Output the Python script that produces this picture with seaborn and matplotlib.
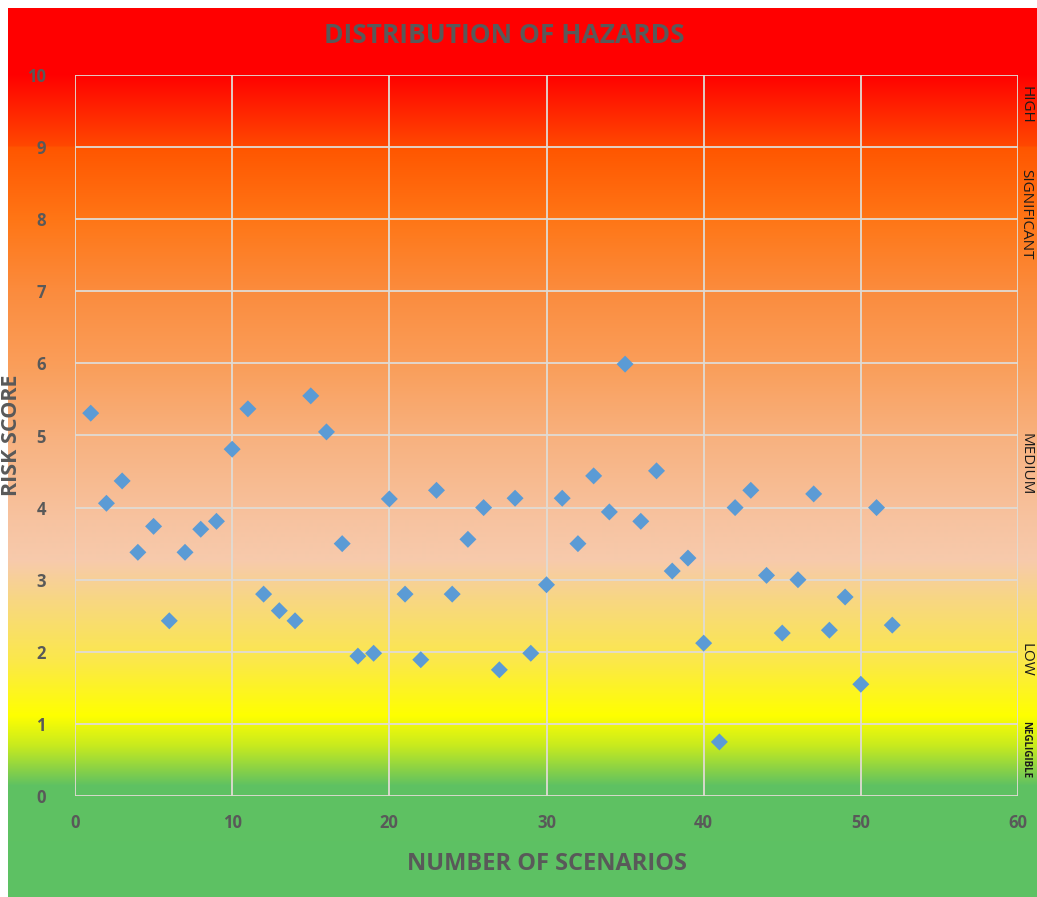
import numpy as np
import pandas as pd
import matplotlib
matplotlib.use("Agg")
import matplotlib.pyplot as plt
import seaborn as sns

# data
scenario = list(range(1, 53))
risk_score = [5.31, 4.06, 4.37, 3.38, 3.74, 2.43, 3.38, 3.70, 3.81, 4.81,
              5.37, 2.80, 2.57, 2.43, 5.55, 5.05, 3.50, 1.94, 1.98, 4.12,
              2.80, 1.89, 4.24, 2.80, 3.56, 4.00, 1.75, 4.13, 1.98, 2.93,
              4.13, 3.50, 4.44, 3.94, 5.99, 3.81, 4.51, 3.12, 3.30, 2.12,
              0.75, 4.00, 4.24, 3.06, 2.26, 3.00, 4.19, 2.30, 2.76, 1.55,
              4.00, 2.37]
band_labels = ["HIGH", "SIGNIFICANT", "MEDIUM", "LOW", "NEGLIGIBLE"]
band_pos = [9.58, 8.07, 4.6, 1.89, 0.64]

df = pd.DataFrame({"scenario": scenario, "risk": risk_score})

sns.set_style("white")
plt.rcParams['font.family'] = ['Open Sans', 'DejaVu Sans']

W, H = 1037, 897
fig = plt.figure(figsize=(W / 100, H / 100), dpi=100, facecolor="white")

###################
# Background ramp
###################
stops_y = [0, 75, 146, 148, 220, 292, 365, 440, 520, 560, 600, 660, 715, 745, 785, 897]
stops_c = np.array([
    (255, 0, 0), (255, 0, 0), (255, 72, 0), (255, 86, 0), (255, 118, 22),
    (251, 140, 62), (250, 158, 90), (248, 178, 128), (247, 195, 160),
    (247, 202, 172), (248, 215, 130), (251, 232, 75), (255, 255, 0),
    (200, 235, 30), (95, 193, 98), (93, 194, 100)]) / 255.0
rows = np.arange(H)
ramp = np.stack([np.interp(rows, stops_y, stops_c[:, k]) for k in range(3)], axis=1)
bg = fig.add_axes([8 / W, 0, 1 - 8 / W, 1 - 8 / H])
bg.imshow(ramp[8:, None, :], aspect="auto", extent=[0, 1, 0, 1])
bg.axis("off")

###################
# Scatter
###################
ax = fig.add_axes([75 / W, 1 - 796 / H, (1018 - 75) / W, (796 - 75) / H])
ax.set_facecolor("none")
sns.scatterplot(data=df, x="scenario", y="risk", marker="D", color="#5B9BD5",
                s=75, edgecolor="none", ax=ax, zorder=3)

grid_c = (0.88, 0.86, 0.83, 0.85)
ax.set_xlim(0, 60)
ax.set_ylim(0, 10)
ax.set_xticks(range(0, 61, 10))
ax.set_yticks(range(0, 11))
ax.grid(True, color=grid_c, linewidth=1.3)
for s in ax.spines.values():
    s.set_visible(False)
ax.tick_params(axis="both", length=5, width=1.2, color=grid_c, labelsize=12,
               labelcolor="#595959", pad=8)
ax.tick_params(axis="y", pad=16)
for t in ax.get_xticklabels() + ax.get_yticklabels():
    t.set_fontweight("bold")

ax.set_xlabel("NUMBER OF SCENARIOS", fontsize=17, fontweight="bold", color="#595959")
ax.xaxis.set_label_coords(0.5, -0.078)
ax.set_ylabel("RISK SCORE", fontsize=15.5, fontweight="bold", color="#595959")
ax.yaxis.set_label_coords(-0.056, 0.5)
ax.set_title("DISTRIBUTION OF HAZARDS", fontsize=19, fontweight="bold", color="#595959",
             x=0.455, pad=23)

for lab, yv in zip(band_labels, band_pos):
    small = lab == "NEGLIGIBLE"
    ax.text(1.008, yv, lab, transform=ax.get_yaxis_transform(), rotation=-90,
            ha="center", va="center", fontsize=7 if small else 11,
            fontweight="bold" if small else "normal", color="#1a1a1a")

fig.savefig("out.png", dpi=100, facecolor="white")
